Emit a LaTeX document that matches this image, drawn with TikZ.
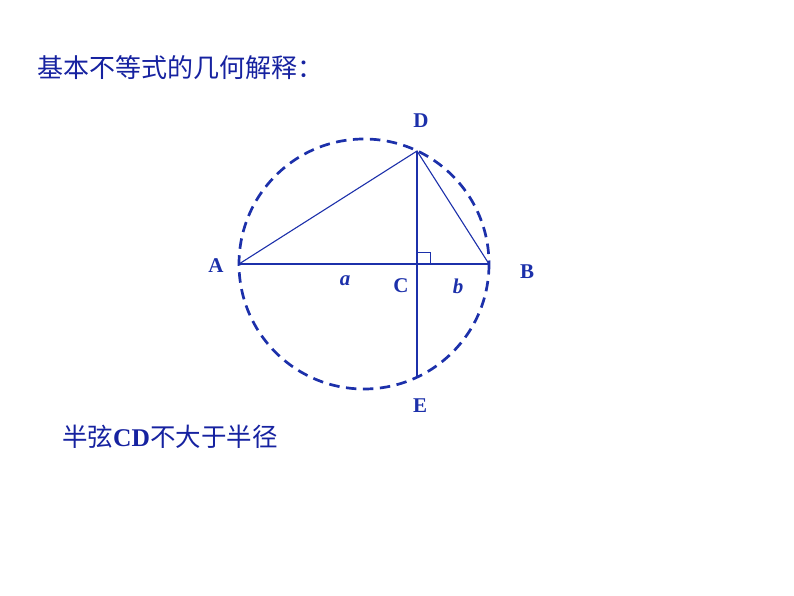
\documentclass[tikz,border=0pt]{standalone}
\usepackage{fontspec}
\setmainfont{Liberation Serif}
\newfontfamily\cjk{Noto Sans CJK SC}
\definecolor{dblue}{RGB}{28,48,170}
\definecolor{tblue}{RGB}{22,34,160}
\begin{document}
\begin{tikzpicture}[x=1pt,y=-1pt,
  lbl/.style={text=dblue,font=\fontsize{21}{21}\selectfont\bfseries,inner sep=0pt},
  seg/.style={draw=dblue,line width=1.1pt}]
\useasboundingbox (0,0) rectangle (794,596);
\node[anchor=west,text=tblue,font=\cjk\fontsize{26}{26}\selectfont,inner sep=0pt] (title) at (37,68) {基本不等式的几何解释：};
\coordinate (O) at (364,264);
\coordinate (A) at (239,264);
\coordinate (B) at (489,264);
\coordinate (C) at (417,264);
\coordinate (D) at (417,151);
\coordinate (E) at (417,377);
\draw[dblue,line width=2.7pt,dash pattern=on 10.5pt off 6.5pt] (O) circle (125);
\draw[seg] (A) -- (B);
\draw[seg] (A) -- (D) -- (B);
\draw[seg] (D) -- (E);
\draw[seg,line width=0.8pt] (417,252) -- (430,252) -- (430,264);
\node[lbl] (lD) at (421,121) {D};
\node[lbl] (lA) at (216,266) {A};
\node[lbl] (lB) at (527,272) {B};
\node[lbl] (lC) at (401,286) {C};
\node[lbl] (lE) at (420,406) {E};
\node[lbl,font=\fontsize{21}{21}\selectfont\bfseries\itshape] (la) at (345,281) {a};
\node[lbl,font=\fontsize{21}{21}\selectfont\bfseries\itshape] (lb) at (458,286) {b};
\node[anchor=west,text=tblue,font=\cjk\fontsize{25.5}{25.5}\selectfont,inner sep=0pt] (note) at (62,437) {半弦{\rmfamily\bfseries CD}不大于半径};
\end{tikzpicture}
\end{document}
